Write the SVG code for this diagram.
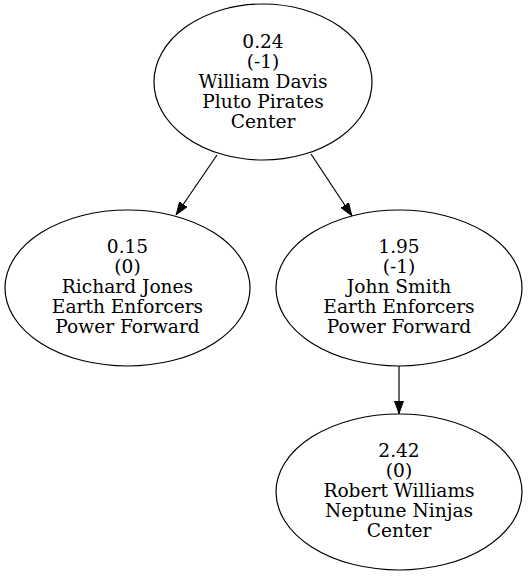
<svg xmlns="http://www.w3.org/2000/svg" width="528" height="576" viewBox="0 0 528 576">
<style>
.n ellipse{fill:none;stroke:#000;stroke-width:1.2}
.n text{font-family:"DejaVu Serif","Liberation Serif",serif;font-size:18.6px;text-anchor:middle;fill:#000}
.e line{stroke:#000;stroke-width:1.2}
</style>
<defs>
<marker id="ah" markerWidth="13" markerHeight="10" refX="13" refY="5" orient="auto" markerUnits="userSpaceOnUse">
<path d="M0,0.5 L12.5,5 L0,9.5 Z" fill="#000" stroke="#000"/>
</marker>
</defs>
<rect width="528" height="576" fill="#fff"/>
<g id="edges" class="e">
<line x1="217" y1="155" x2="176" y2="215" marker-end="url(#ah)"/>
<line x1="311" y1="154" x2="352" y2="216" marker-end="url(#ah)"/>
<line x1="399" y1="366" x2="399" y2="414" marker-end="url(#ah)"/>
</g>
<g id="n_root" class="n">
<ellipse cx="263" cy="82" rx="109" ry="78"/>
<text x="263" y="48">0.24</text>
<text x="263" y="68">(-1)</text>
<text x="263" y="88">William Davis</text>
<text x="263" y="108">Pluto Pirates</text>
<text x="263" y="128">Center</text>
</g>
<g id="n_left" class="n">
<ellipse cx="127.5" cy="288" rx="122.5" ry="78"/>
<text x="127.5" y="253">0.15</text>
<text x="127.5" y="273">(0)</text>
<text x="127.5" y="293">Richard Jones</text>
<text x="127.5" y="313">Earth Enforcers</text>
<text x="127.5" y="333">Power Forward</text>
</g>
<g id="n_right" class="n">
<ellipse cx="399" cy="288" rx="123" ry="78"/>
<text x="399" y="253">1.95</text>
<text x="399" y="273">(-1)</text>
<text x="399" y="293">John Smith</text>
<text x="399" y="313">Earth Enforcers</text>
<text x="399" y="333">Power Forward</text>
</g>
<g id="n_bottom" class="n">
<ellipse cx="399" cy="492" rx="123" ry="78"/>
<text x="399" y="457">2.42</text>
<text x="399" y="477">(0)</text>
<text x="399" y="497">Robert Williams</text>
<text x="399" y="517">Neptune Ninjas</text>
<text x="399" y="537">Center</text>
</g>
</svg>
